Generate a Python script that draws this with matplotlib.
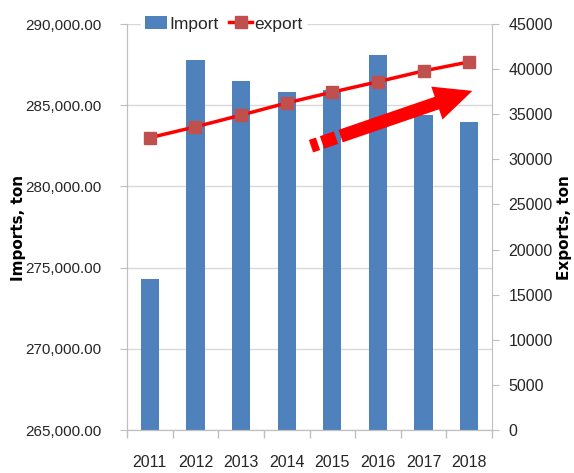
import matplotlib.pyplot as plt
from matplotlib.patches import FancyArrowPatch
from matplotlib.ticker import FuncFormatter, MultipleLocator
import numpy as np

years = ['2011', '2012', '2013', '2014', '2015', '2016', '2017', '2018']
imports = [274300, 287780, 286490, 285810, 285920, 288090, 284400, 283970]
exports = [32400, 33600, 34900, 36250, 37450, 38600, 39800, 40800]

plt.rcParams['font.family'] = ['Liberation Sans', 'DejaVu Sans']
text_col = '#262626'
grid_col = '#d9d9d9'
axis_col = '#bfbfbf'

fig = plt.figure(figsize=(5.74, 4.73), dpi=100)
ax = fig.add_axes([127 / 574, 1 - 430 / 473, 365 / 574, 406 / 473])
ax2 = ax.twinx()

x = np.arange(len(years))
bars = ax.bar(x, imports, width=0.4, color='#4f81bd', label='Import', zorder=2)
line, = ax2.plot(x, exports, color='red', lw=2.5, marker='s', markersize=8,
                 markerfacecolor='#c0504d', markeredgecolor='#c0504d', label='export', zorder=3)

# left axis: imports
ax.set_xlim(-0.5, len(years) - 0.5)
ax.set_ylim(265000, 290000)
ax.yaxis.set_major_locator(MultipleLocator(5000))
ax.yaxis.set_major_formatter(FuncFormatter(lambda v, p: f'{v:,.2f}'))
ax.grid(axis='y', color=grid_col, lw=1, zorder=0)
ax.set_axisbelow(True)

ax.set_xticks(x)
ax.set_xticklabels(years)
ax.set_xticks(np.arange(len(years) + 1) - 0.5, minor=True)
ax.tick_params(axis='x', which='major', length=0, pad=18, labelsize=11.5, labelcolor=text_col)
ax.tick_params(axis='x', which='minor', length=6, color=axis_col, width=1)
ax.tick_params(axis='y', length=5, color=axis_col, pad=13.5, labelsize=11, labelcolor=text_col)

# right axis: exports
ax2.set_ylim(0, 45000)
ax2.yaxis.set_major_locator(MultipleLocator(5000))
ax2.tick_params(axis='y', length=5, color=axis_col, pad=7, labelsize=11.5, labelcolor=text_col)

for a in (ax, ax2):
    a.spines['top'].set_visible(False)
    for s in ('left', 'right', 'bottom'):
        a.spines[s].set_color(axis_col)
ax.spines['right'].set_visible(False)

fig.text(19 / 574, 1 - 228 / 473, 'Imports, ton', rotation=90, ha='center', va='center',
         fontsize=11, fontweight='bold', family='DejaVu Sans', color='black')
fig.text(564 / 574, 1 - 228 / 473, 'Exports, ton', rotation=90, ha='center', va='center',
         fontsize=11, fontweight='bold', family='DejaVu Sans', color='black')

leg = ax.legend([bars, line], ['Import', 'export'], loc='center', bbox_to_anchor=(0.265, 1.0),
                ncol=2, frameon=True, fontsize=12.5, handlelength=1.3, handletextpad=0.15,
                columnspacing=0.6, borderpad=0.2, labelcolor=text_col)
leg.get_frame().set_edgecolor('white')
leg.get_frame().set_alpha(1)
leg.set_zorder(5)

# trend arrow with a broken tail
def px(xp, yp):
    return ((xp - 127) / 365, (430 - yp) / 406)

ax2.add_patch(FancyArrowPatch(px(338, 137), px(475, 90), transform=ax2.transAxes,
                              arrowstyle='simple,head_length=27,head_width=25,tail_width=9.5',
                              mutation_scale=1, color='red', lw=0, zorder=4))
for x0, x1 in ((311, 318), (322, 336)):
    p0 = px(x0, 137 + (338 - x0) * 0.34)
    p1 = px(x1, 137 + (338 - x1) * 0.34)
    ax2.plot([p0[0], p1[0]], [p0[1], p1[1]], transform=ax2.transAxes, color='red',
             lw=9.5, solid_capstyle='butt', zorder=4)

fig.savefig('out.png', dpi=100)
